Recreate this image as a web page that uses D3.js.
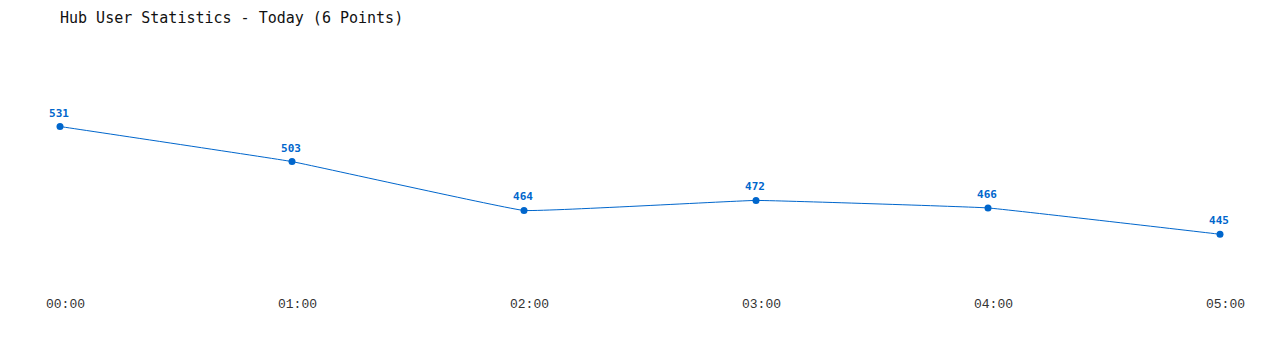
<!DOCTYPE html>
<html lang="en">
<head>
    <meta charset="UTF-8">
    <title>Hub User Statistics</title>
    <script src="https://cdn.jsdelivr.net/npm/d3@7/dist/d3.min.js"></script>
    <style>
        body { margin: 0; background: #fff; }
    </style>
</head>
<body>
    <div id="root"></div>
    <script>
        // hourly user counts for today
        const hours = ['00:00', '01:00', '02:00', '03:00', '04:00', '05:00'];
        const users = [531, 503, 464, 472, 466, 445];
        const chartTitle = 'Hub User Statistics - Today (6 Points)';

        const width = 1280;
        const height = 350;
        const margin = {top: 60, right: 60, bottom: 60, left: 60};
        const lineColor = '#0066cc';
        const mono = '"DejaVu Sans Mono", "Liberation Mono", monospace';
        const thinMono = '"Liberation Mono", "DejaVu Sans Mono", monospace';

        const data = hours.map((h, i) => ({hour: h, value: users[i]}));

        const svg = d3.select('#root')
            .append('svg')
            .attr('width', width)
            .attr('height', height);

        const x = d3.scalePoint()
            .domain(hours)
            .range([margin.left, width - margin.right]);

        const y = d3.scaleLinear()
            .domain([d3.min(users) * 0.9, d3.max(users) * 1.1])
            .range([height - margin.bottom, margin.top]);

        svg.append('text')
            .attr('x', 60)
            .attr('y', 23)
            .attr('font-family', mono)
            .attr('font-size', 15)
            .attr('fill', '#111')
            .text(chartTitle);

        // x labels only, no axis line
        const xAxis = d3.axisBottom(x).tickSize(0).tickPadding(0);
        const gx = svg.append('g')
            .attr('transform', `translate(5, ${height - margin.bottom})`)
            .call(xAxis);
        gx.select('.domain').remove();
        gx.selectAll('text')
            .attr('dy', null)
            .attr('y', 18)
            .attr('font-family', thinMono)
            .attr('font-size', 13)
            .attr('fill', '#333');

        const line = d3.line()
            .x(d => x(d.hour))
            .y(d => y(d.value))
            .curve(d3.curveCardinal.tension(0.8));

        svg.append('path')
            .datum(data)
            .attr('d', line)
            .attr('fill', 'none')
            .attr('stroke', lineColor)
            .attr('stroke-width', 1);

        svg.selectAll('circle')
            .data(data)
            .enter()
            .append('circle')
            .attr('cx', d => x(d.hour))
            .attr('cy', d => y(d.value))
            .attr('r', 3.5)
            .attr('fill', lineColor);

        svg.selectAll('.val')
            .data(data)
            .enter()
            .append('text')
            .attr('class', 'val')
            .attr('x', d => x(d.hour) - 1)
            .attr('y', d => y(d.value) - 10)
            .attr('text-anchor', 'middle')
            .attr('font-family', mono)
            .attr('font-size', 11)
            .attr('font-weight', 'bold')
            .attr('fill', lineColor)
            .text(d => d.value);
    </script>
</body>
</html>
